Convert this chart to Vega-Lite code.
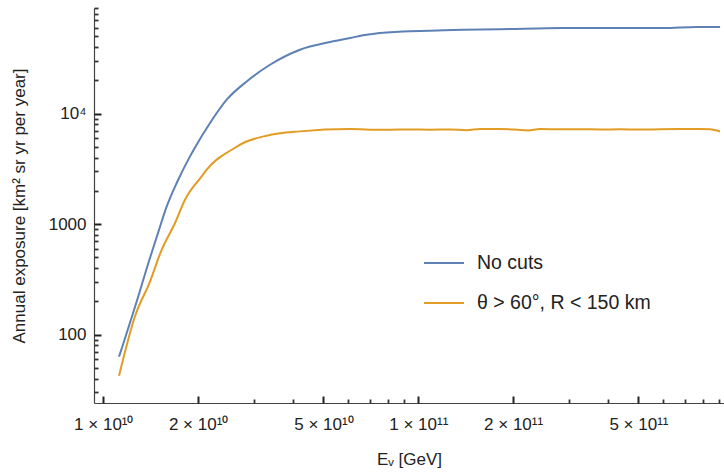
{
  "$schema": "https://vega.github.io/schema/vega-lite/v6.json",
  "autosize": {"type": "none"},
  "padding": {"left": 94, "top": 8, "right": 0, "bottom": 72},
  "width": 630,
  "height": 395,
  "background": "white",
  "config": {
    "view": {"stroke": null},
    "font": "Liberation Sans"
  },
  "data": {
    "values": [
      {"series": "No cuts", "E": 1.122e10, "A": 63.2},
      {"series": "No cuts", "E": 1.291e10, "A": 222},
      {"series": "No cuts", "E": 1.390e10, "A": 445},
      {"series": "No cuts", "E": 1.495e10, "A": 849},
      {"series": "No cuts", "E": 1.590e10, "A": 1449},
      {"series": "No cuts", "E": 1.710e10, "A": 2360},
      {"series": "No cuts", "E": 1.885e10, "A": 4110},
      {"series": "No cuts", "E": 1.945e10, "A": 4824},
      {"series": "No cuts", "E": 2.182e10, "A": 8240},
      {"series": "No cuts", "E": 2.465e10, "A": 13390},
      {"series": "No cuts", "E": 2.852e10, "A": 19600},
      {"series": "No cuts", "E": 3.382e10, "A": 27750},
      {"series": "No cuts", "E": 4.211e10, "A": 37950},
      {"series": "No cuts", "E": 5.245e10, "A": 44560},
      {"series": "No cuts", "E": 6.070e10, "A": 48400},
      {"series": "No cuts", "E": 6.675e10, "A": 51330},
      {"series": "No cuts", "E": 8.94e10, "A": 55600},
      {"series": "No cuts", "E": 1.089e11, "A": 56380},
      {"series": "No cuts", "E": 1.387e11, "A": 57600},
      {"series": "No cuts", "E": 1.817e11, "A": 58200},
      {"series": "No cuts", "E": 2.880e11, "A": 59700},
      {"series": "No cuts", "E": 5.98e11, "A": 59700},
      {"series": "No cuts", "E": 7.67e11, "A": 61000},
      {"series": "No cuts", "E": 9.08e11, "A": 61000},
      {"series": "θ > 60°, R < 150 km", "E": 1.122e10, "A": 42.5},
      {"series": "θ > 60°, R < 150 km", "E": 1.260e10, "A": 146},
      {"series": "θ > 60°, R < 150 km", "E": 1.407e10, "A": 303},
      {"series": "θ > 60°, R < 150 km", "E": 1.532e10, "A": 587},
      {"series": "θ > 60°, R < 150 km", "E": 1.689e10, "A": 1025},
      {"series": "θ > 60°, R < 150 km", "E": 1.817e10, "A": 1667},
      {"series": "θ > 60°, R < 150 km", "E": 2.053e10, "A": 2709},
      {"series": "θ > 60°, R < 150 km", "E": 2.130e10, "A": 3115},
      {"series": "θ > 60°, R < 150 km", "E": 2.619e10, "A": 4922},
      {"series": "θ > 60°, R < 150 km", "E": 2.782e10, "A": 5430},
      {"series": "θ > 60°, R < 150 km", "E": 3.301e10, "A": 6320},
      {"series": "θ > 60°, R < 150 km", "E": 4.211e10, "A": 6920},
      {"series": "θ > 60°, R < 150 km", "E": 6.070e10, "A": 7270},
      {"series": "θ > 60°, R < 150 km", "E": 7.025e10, "A": 7165},
      {"series": "θ > 60°, R < 150 km", "E": 8.133e10, "A": 7165},
      {"series": "θ > 60°, R < 150 km", "E": 9.413e10, "A": 7195},
      {"series": "θ > 60°, R < 150 km", "E": 1.0893e11, "A": 7165},
      {"series": "θ > 60°, R < 150 km", "E": 1.2606e11, "A": 7210},
      {"series": "θ > 60°, R < 150 km", "E": 1.4279e11, "A": 7090},
      {"series": "θ > 60°, R < 150 km", "E": 1.5705e11, "A": 7284},
      {"series": "θ > 60°, R < 150 km", "E": 1.8173e11, "A": 7269},
      {"series": "θ > 60°, R < 150 km", "E": 2.0277e11, "A": 7195},
      {"series": "θ > 60°, R < 150 km", "E": 2.2301e11, "A": 7061},
      {"series": "θ > 60°, R < 150 km", "E": 2.4349e11, "A": 7269},
      {"series": "θ > 60°, R < 150 km", "E": 2.8173e11, "A": 7225},
      {"series": "θ > 60°, R < 150 km", "E": 3.2605e11, "A": 7240},
      {"series": "θ > 60°, R < 150 km", "E": 3.7740e11, "A": 7195},
      {"series": "θ > 60°, R < 150 km", "E": 4.3686e11, "A": 7225},
      {"series": "θ > 60°, R < 150 km", "E": 5.0572e11, "A": 7195},
      {"series": "θ > 60°, R < 150 km", "E": 5.8539e11, "A": 7225},
      {"series": "θ > 60°, R < 150 km", "E": 6.7764e11, "A": 7255},
      {"series": "θ > 60°, R < 150 km", "E": 7.8433e11, "A": 7284},
      {"series": "θ > 60°, R < 150 km", "E": 8.4335e11, "A": 7225},
      {"series": "θ > 60°, R < 150 km", "E": 9.0760e11, "A": 6915}
    ]
  },
  "resolve": {"axis": {"x": "independent", "y": "independent"}},
  "layer": [
    {
      "mark": {"type": "line", "strokeOpacity": 0, "clip": true},
      "encoding": {
        "x": {
          "field": "E", "type": "quantitative",
          "scale": {"type": "log", "domain": [9.343e9, 9.343e11], "nice": false},
          "axis": {
            "orient": "bottom",
            "title": "Eᵥ [GeV]",
            "titleFont": "Liberation Sans", "titleFontSize": 17, "titleFontWeight": "normal", "titleColor": "#222",
            "titlePadding": 19,
            "values": [1e10, 2e10, 5e10, 1e11, 2e11, 5e11],
            "labelExpr": "datum.value==1e10?'1 × 10¹⁰':datum.value==2e10?'2 × 10¹⁰':datum.value==5e10?'5 × 10¹⁰':datum.value==1e11?'1 × 10¹¹':datum.value==2e11?'2 × 10¹¹':'5 × 10¹¹'",
            "labelFont": "Liberation Sans", "labelFontSize": 17, "labelColor": "#222",
            "labelPadding": 13,
            "labelFlush": false, "labelOverlap": false,
            "grid": false,
            "ticks": false,
            "domainColor": "#444", "domainWidth": 1.2
          }
        },
        "y": {
          "field": "A", "type": "quantitative",
          "scale": {"type": "log", "domain": [24.1, 90500], "nice": false},
          "axis": {
            "orient": "left",
            "title": "Annual exposure [km² sr yr per year]",
            "titleFont": "Liberation Sans", "titleFontSize": 17, "titleFontWeight": "normal", "titleColor": "#222",
            "titlePadding": 20,
            "values": [100, 1000, 10000],
            "labelExpr": "datum.value==100?'100':datum.value==1000?'1000':'10⁴'",
            "labelFont": "Liberation Sans", "labelFontSize": 17, "labelColor": "#222",
            "labelPadding": 8,
            "labelFlush": false, "labelOverlap": false,
            "grid": false,
            "ticks": false,
            "domainColor": "#444", "domainWidth": 1.2
          }
        },
        "detail": {"field": "series"}
      }
    },
    {
      "mark": {"type": "line", "strokeOpacity": 0, "clip": true},
      "encoding": {
        "x": {
          "field": "E", "type": "quantitative",
          "scale": {"type": "log", "domain": [9.343e9, 9.343e11], "nice": false},
          "axis": {
            "orient": "bottom",
            "title": null,
            "values": [1e10, 2e10, 5e10, 1e11, 2e11, 5e11],
            "labels": false,
            "domain": false,
            "grid": false,
            "tickColor": "#222",
            "tickWidth": 2,
            "tickSize": 7,
            "offset": -7
          }
        },
        "y": {
          "field": "A", "type": "quantitative",
          "scale": {"type": "log", "domain": [24.1, 90500], "nice": false},
          "axis": {
            "orient": "left",
            "title": null,
            "values": [100, 1000, 10000],
            "labels": false,
            "domain": false,
            "grid": false,
            "tickColor": "#222",
            "tickWidth": 2,
            "tickSize": -7
          }
        },
        "detail": {"field": "series"}
      }
    },
    {
      "mark": {"type": "line", "strokeWidth": 2, "clip": true, "interpolate": "monotone"},
      "encoding": {
        "x": {
          "field": "E", "type": "quantitative",
          "scale": {"type": "log", "domain": [9.343e9, 9.343e11], "nice": false},
          "axis": {
            "orient": "bottom",
            "title": null,
            "values": [3e10, 4e10, 6e10, 7e10, 8e10, 9e10, 3e11, 4e11, 6e11, 7e11, 8e11, 9e11],
            "labels": false,
            "domain": false,
            "grid": false,
            "tickColor": "#333",
            "tickWidth": 1.8,
            "tickSize": 4,
            "offset": -4
          }
        },
        "y": {
          "field": "A", "type": "quantitative",
          "scale": {"type": "log", "domain": [24.1, 90500], "nice": false},
          "axis": {
            "orient": "left",
            "title": null,
            "values": [30, 40, 50, 60, 70, 80, 90, 200, 300, 400, 500, 600, 700, 800, 900, 2000, 3000, 4000, 5000, 6000, 7000, 8000, 9000, 20000, 30000, 40000, 50000, 60000, 70000, 80000, 90000],
            "labels": false,
            "domain": false,
            "grid": false,
            "tickColor": "#333",
            "tickWidth": 1.8,
            "tickSize": -4
          }
        },
        "color": {
          "field": "series", "type": "nominal",
          "scale": {"domain": ["No cuts", "θ > 60°, R < 150 km"], "range": ["#5E81B5", "#E19C24"]},
          "legend": {
            "title": null,
            "orient": "none",
            "legendX": 329,
            "legendY": 234,
            "symbolType": "stroke",
            "symbolSize": 1600,
            "symbolStrokeWidth": 2,
            "labelFont": "Liberation Sans",
            "labelFontSize": 19.5,
            "labelColor": "#222",
            "labelOffset": 12,
            "rowPadding": 9,
            "labelLimit": 400
          }
        }
      }
    }
  ]
}
